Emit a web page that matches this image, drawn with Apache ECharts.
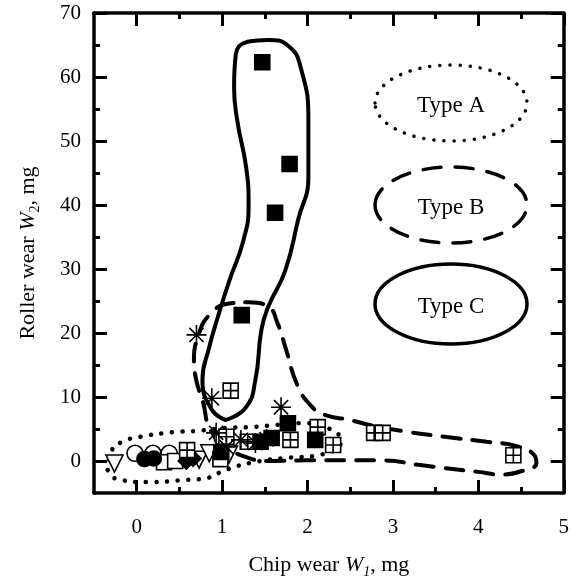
<!DOCTYPE html>
<html><head><meta charset="utf-8">
<script src="https://cdn.jsdelivr.net/npm/echarts@6/dist/echarts.min.js"></script>
<style>html,body{margin:0;padding:0;background:#fff}#c{width:572px;height:586px}</style>
</head><body><div id="c"></div>
<script>
// ---- tick values ----
const xLabelValues = [0, 1, 2, 3, 4, 5];
const xMinorValues = [0.5, 1.5, 2.5, 3.5, 4.5];
const yLabelValues = [0, 10, 20, 30, 40, 50, 60, 70];
const yMinorValues = [5, 15, 25, 35, 45, 55, 65];

// ---- data points [W1, W2] ----
const filledSquares = [[1.47,62.3],[1.79,46.4],[1.62,38.8],[1.23,22.8],[1.77,5.9],[1.58,3.6],[2.09,3.3],[0.99,1.4],[1.45,3.0]];
const crossSquares = [[1.10,11.0],[1.80,3.3],[2.12,5.3],[2.30,2.5],[2.78,4.4],[2.88,4.4],[4.41,0.9],[0.59,1.7],[1.05,3.8],[1.30,3.0]];
const asterisks = [[0.70,19.7],[0.88,9.8],[1.69,8.4],[1.22,3.3],[1.39,2.8],[0.93,4.4],[1.05,2.2],[1.52,3.4]];
const openCircles = [[-0.02,1.2],[0.19,1.2],[0.38,1.2],[1.0,3.6]];
const filledCircles = [[0.09,0.3],[0.2,0.4]];
const openSquares = [[0.32,-0.2],[0.45,0.0],[0.98,0.3]];
const openTriangles = [[-0.26,-0.4],[0.73,0.2],[0.85,1.2],[1.08,1.0]];
const filledDiamonds = [[0.58,0.0],[0.66,0.4]];

// ---- region outlines (hand drawn in the figure) ----
const typeAOutline = [[-0.34,-1.4],[-0.29,1.7],[-0.17,3.0],[0.03,3.75],[0.42,4.5],[0.70,4.7],[1.08,5.2],[1.35,5.3],[1.60,5.6],[1.98,5.9],[2.33,4.5],[2.39,3.0],[2.12,0.9],[1.77,0.5],[1.39,-0.15],[1.04,-1.4],[0.81,-2.7],[0.53,-3.0],[0.15,-3.3],[-0.26,-2.7],[-0.34,-1.4]];
const typeBOutline = [[1.0,2.5],[0.85,5.2],[0.78,9.0],[0.70,12.5],[0.67,15.8],[0.72,19.5],[0.85,22.8],[1.08,24.6],[1.31,24.8],[1.54,24.1],[1.65,21.5],[1.74,17.8],[1.89,11.6],[2.05,8.5],[2.2,7.2],[2.5,6.4],[2.74,5.6],[3.2,4.5],[3.63,3.75],[4.1,3.0],[4.45,2.3],[4.65,1.0],[4.68,-0.3],[4.5,-1.6],[4.25,-2.1],[4.0,-1.7],[3.6,-1.1],[3.3,-0.6],[2.88,0.1],[2.44,0.1],[2.0,0.1],[1.54,0.0],[1.2,1.0],[1.0,2.5]];
const typeCOutline = [[1.04,6.4],[0.88,8.0],[0.77,12.7],[0.85,17.8],[0.95,22.5],[1.08,28.0],[1.25,34.5],[1.31,40.0],[1.28,46.0],[1.18,53.0],[1.14,58.4],[1.16,63.5],[1.30,65.5],[1.54,65.8],[1.78,64.8],[1.92,61.5],[2.01,53.3],[2.01,44.4],[1.89,37.7],[1.74,29.8],[1.54,24.1],[1.46,20.5],[1.39,12.7],[1.28,8.4],[1.04,6.4]];

const legendLabels = ['Type A', 'Type B', 'Type C'];

const FONT = 'Liberation Serif';
const chart = echarts.init(document.getElementById('c'), null, {renderer: 'canvas'});

function xAx(pos, major, withLabel) {
  return {
    type: 'value', min: -0.5, max: 5, position: pos,
    axisLine: {show: major, onZero: false, lineStyle: {color: '#000', width: 3.5}},
    axisTick: {show: true, inside: true, length: major ? 13 : 6, customValues: major ? xLabelValues : xMinorValues, lineStyle: {color: '#000', width: 3}},
    axisLabel: withLabel ? {show: true, customValues: xLabelValues, margin: 24, color: '#000', fontFamily: FONT, fontSize: 21} : {show: false},
    splitLine: {show: false}
  };
}
function yAx(pos, major, withLabel) {
  return {
    type: 'value', min: -5, max: 70, position: pos,
    axisLine: {show: major, onZero: false, lineStyle: {color: '#000', width: 3.5}},
    axisTick: {show: true, inside: true, length: major ? 13 : 6, customValues: major ? yLabelValues : yMinorValues, lineStyle: {color: '#000', width: 3}},
    axisLabel: withLabel ? {show: true, customValues: yLabelValues, margin: 13, color: '#000', fontFamily: FONT, fontSize: 21} : {show: false},
    splitLine: {show: false}
  };
}

const xs = [xAx('bottom', true, true), xAx('bottom', false, false), xAx('top', true, false), xAx('top', false, false)];
const ys = [yAx('left', true, true), yAx('left', false, false), yAx('right', true, false), yAx('right', false, false)];

const richName = {
  n: {fontFamily: FONT, fontSize: 22, color: '#000', lineHeight: 28},
  i: {fontFamily: FONT, fontSize: 22, fontStyle: 'italic', color: '#000', lineHeight: 28},
  s: {fontFamily: FONT, fontSize: 14, fontStyle: 'italic', color: '#000', lineHeight: 14, padding: [14, 0, 0, 0]},
  s2: {fontFamily: FONT, fontSize: 14, color: '#000', lineHeight: 14, padding: [14, 0, 0, 0]}
};
xs[0].name = '{n|Chip wear }{i|W}{s|1}{n|, mg}';
xs[0].nameLocation = 'middle';
xs[0].nameGap = 58;
xs[0].nameTextStyle = {rich: richName};
ys[0].name = '{n|Roller wear }{i|W}{s2|2}{n|, mg}';
ys[0].nameLocation = 'middle';
ys[0].nameRotate = 90;
ys[0].nameGap = 52;
ys[0].nameTextStyle = {rich: richName};

function outline(data, type) {
  return {
    type: 'line', data: data, xAxisIndex: 0, yAxisIndex: 0, smooth: 0.5,
    showSymbol: false, symbol: 'none', silent: true, z: 2,
    lineStyle: {color: '#000', width: type === 'dotted' ? 4.5 : 4, type: type === 'dotted' ? [0.1, 10.5] : (type === 'dashed' ? [18, 12] : 'solid'), cap: 'round'}
  };
}
function pts(data, symbol, size, fill, extra) {
  return Object.assign({
    type: 'scatter', data: data, xAxisIndex: 0, yAxisIndex: 0, symbol: symbol, symbolSize: size, silent: true, z: 3,
    itemStyle: {color: fill, borderColor: '#000', borderWidth: 1.6, opacity: 1}
  }, extra || {});
}

const crossPath = 'path://M0,0L10,0L10,10L0,10Z M5,0L5,10 M0,5L10,5';
const starPath = 'path://M5,0L5,10 M0,5L10,5 M1.46,1.46L8.54,8.54 M8.54,1.46L1.46,8.54';

const legendEllipses = [
  {cy: 103, dash: [0.1, 10]},
  {cy: 205, dash: [18, 14]},
  {cy: 304, dash: null}
];
const graphic = [];
legendEllipses.forEach((e, i) => {
  graphic.push({type: 'ellipse', shape: {cx: 451, cy: e.cy, rx: 76, ry: 38 + (i === 2 ? 2 : 0)},
    style: {fill: 'none', stroke: '#000', lineWidth: 3.5, lineDash: e.dash, lineCap: 'round'}, z: 10});
  graphic.push({type: 'text', x: 451, y: e.cy + 3, style: {text: legendLabels[i], font: '23px "Liberation Serif"', fill: '#000', align: 'center', verticalAlign: 'middle'}, z: 10});
});

chart.setOption({
  animation: false,
  backgroundColor: '#fff',
  grid: {left: 94, right: 3, top: 13, bottom: 93, containLabel: false},
  xAxis: xs,
  yAxis: ys,
  graphic: graphic,
  series: [
    outline(typeAOutline, 'dotted'),
    outline(typeBOutline, 'dashed'),
    outline(typeCOutline, 'solid'),
    pts(openTriangles, 'triangle', 17, '#fff', {symbolRotate: 180}),
    pts(openCircles, 'circle', 16, '#fff'),
    pts(openSquares, 'rect', 15, '#fff'),
    pts(filledCircles, 'circle', 15, '#000'),
    pts(filledDiamonds, 'diamond', 16, '#000'),
    pts(crossSquares, crossPath, 15, '#fff'),
    pts(asterisks, starPath, 20, 'none'),
    pts(filledSquares, 'rect', 15, '#000')
  ]
});
</script></body></html>
